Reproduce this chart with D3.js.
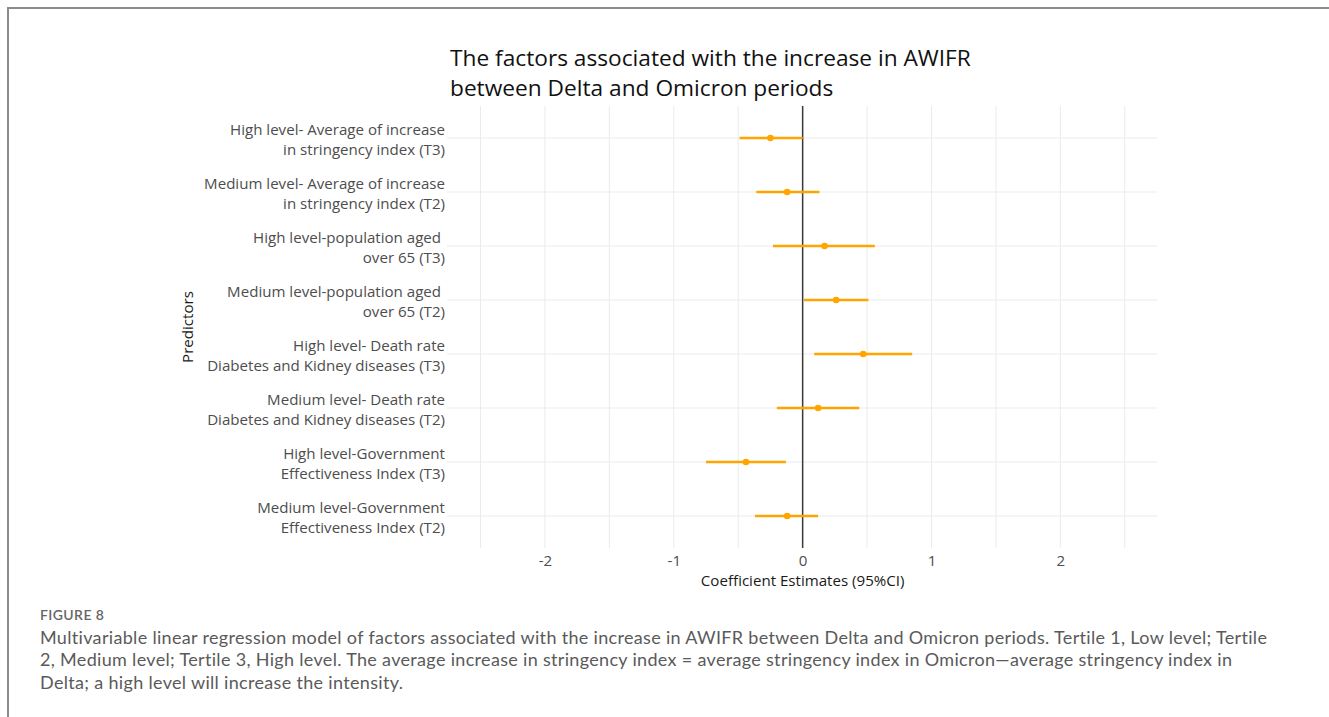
<!DOCTYPE html>
<html>
<head>
<meta charset="utf-8">
<script src="https://cdn.jsdelivr.net/npm/d3@7"></script>
<style>
  html, body { margin: 0; padding: 0; background: #fff; }
  svg { display: block; }
</style>
</head>
<body>
<div id="chart"></div>
<script>
// DATA
const predictors = [
  ["High level- Average of increase", "in stringency index (T3)"],
  ["Medium level- Average of increase", "in stringency index (T2)"],
  ["High level-population aged ", "over 65 (T3)"],
  ["Medium level-population aged ", "over 65 (T2)"],
  ["High level- Death rate", "Diabetes and Kidney diseases (T3)"],
  ["Medium level- Death rate", "Diabetes and Kidney diseases (T2)"],
  ["High level-Government", "Effectiveness Index (T3)"],
  ["Medium level-Government", "Effectiveness Index (T2)"],
];
const estimates = [-0.25, -0.12, 0.17, 0.26, 0.47, 0.12, -0.44, -0.12];
const lower = [-0.49, -0.36, -0.23, 0.01, 0.09, -0.2, -0.75, -0.37];
const upper = [0.0, 0.13, 0.56, 0.51, 0.85, 0.44, -0.13, 0.12];
const xTicks = [-2, -1, 0, 1, 2];
const xGrid = [-2.5, -2, -1.5, -1, -0.5, 0, 0.5, 1, 1.5, 2, 2.5];

const titleLines = [
  "The factors associated with the increase in AWIFR",
  "between Delta and Omicron periods",
];
const captionLabel = "FIGURE 8";
const captionLines = [
  "Multivariable linear regression model of factors associated with the increase in AWIFR between Delta and Omicron periods. Tertile 1, Low level; Tertile",
  "2, Medium level; Tertile 3, High level. The average increase in stringency index = average stringency index in Omicron\u2014average stringency index in",
  "Delta; a high level will increase the intensity.",
];

// CANVAS SETUP
const width = 1329,
  height = 717;
const panel = { left: 447, right: 1157, top: 106, bottom: 548 };
const labelFont = "'Open Sans', 'Noto Sans', sans-serif";
const captionFont = "Lato, 'Open Sans', sans-serif";
const labelSize = 15.1;

const svg = d3
  .select("#chart")
  .append("svg")
  .attr("width", width)
  .attr("height", height);

// frame of the figure box
svg
  .append("path")
  .attr("d", `M8,${height} L8,8 L${width},8`)
  .attr("fill", "none")
  .attr("stroke", "#8c8c8c")
  .attr("stroke-width", 2);

const xScale = d3
  .scaleLinear()
  .domain([-2.76, 2.75])
  .range([panel.left, panel.right]);

const yScale = d3
  .scalePoint()
  .domain(d3.range(predictors.length))
  .range([138, 516]);

// grid
const grid = svg.append("g").attr("class", "grid");
grid
  .selectAll("line.v")
  .data(xGrid)
  .join("line")
  .attr("class", "v")
  .attr("x1", (d) => xScale(d))
  .attr("x2", (d) => xScale(d))
  .attr("y1", panel.top)
  .attr("y2", panel.bottom)
  .attr("stroke", "#ebebeb")
  .attr("stroke-width", 1);
grid
  .selectAll("line.h")
  .data(predictors)
  .join("line")
  .attr("class", "h")
  .attr("x1", panel.left)
  .attr("x2", panel.right)
  .attr("y1", (d, i) => yScale(i))
  .attr("y2", (d, i) => yScale(i))
  .attr("stroke", "#ebebeb")
  .attr("stroke-width", 1.2);

// zero reference line
svg
  .append("line")
  .attr("x1", xScale(0))
  .attr("x2", xScale(0))
  .attr("y1", panel.top)
  .attr("y2", panel.bottom)
  .attr("stroke", "#3a3a3a")
  .attr("stroke-width", 1.5);

// error bars + points
const marks = svg.append("g").attr("class", "marks");
marks
  .selectAll("line")
  .data(estimates)
  .join("line")
  .attr("x1", (d, i) => xScale(lower[i]))
  .attr("x2", (d, i) => xScale(upper[i]))
  .attr("y1", (d, i) => yScale(i))
  .attr("y2", (d, i) => yScale(i))
  .attr("stroke", "#ffa500")
  .attr("stroke-width", 2.6);
marks
  .selectAll("circle")
  .data(estimates)
  .join("circle")
  .attr("cx", (d) => xScale(d))
  .attr("cy", (d, i) => yScale(i))
  .attr("r", 3.3)
  .attr("fill", "#ffa500");

// x axis
const xAxis = svg
  .append("g")
  .attr("transform", `translate(0,${panel.bottom + 4})`)
  .call(d3.axisBottom(xScale).tickValues(xTicks).tickSize(0).tickFormat(d3.format("d")));
xAxis.select(".domain").remove();
xAxis
  .selectAll("text")
  .attr("font-family", labelFont)
  .attr("font-size", labelSize)
  .attr("fill", "#4d4d4d")
  .text((d) => (d < 0 ? "-" + Math.abs(d) : d));

svg
  .append("text")
  .attr("x", xScale(0))
  .attr("y", 586)
  .attr("text-anchor", "middle")
  .attr("font-family", labelFont)
  .attr("font-size", labelSize)
  .attr("fill", "#1a1a1a")
  .text("Coefficient Estimates (95%CI)");

// y labels
const yLab = svg
  .append("g")
  .selectAll("text")
  .data(predictors)
  .join("text")
  .attr("text-anchor", "end")
  .attr("font-family", labelFont)
  .attr("font-size", labelSize)
  .attr("fill", "#4d4d4d");
yLab
  .selectAll("tspan")
  .data((d, i) => d.map((t, j) => ({ t, j, i })))
  .join("tspan")
  .attr("x", panel.left - 2)
  .attr("y", (d) => yScale(d.i) - 3 + d.j * 20)
  .attr("xml:space", "preserve")
  .text((d) => d.t);

svg
  .append("text")
  .attr("transform", "translate(193,327) rotate(-90)")
  .attr("text-anchor", "middle")
  .attr("font-family", labelFont)
  .attr("font-size", labelSize)
  .attr("fill", "#1a1a1a")
  .text("Predictors");

// title
svg
  .append("g")
  .selectAll("text")
  .data(titleLines)
  .join("text")
  .attr("x", 450)
  .attr("y", (d, i) => 66 + i * 30)
  .attr("font-family", labelFont)
  .attr("font-size", 22.7)
  .attr("fill", "#111")
  .text((d) => d);

// caption
svg
  .append("text")
  .attr("x", 40)
  .attr("y", 620)
  .attr("font-family", captionFont)
  .attr("font-size", 14)
  .attr("font-weight", 600)
  .attr("letter-spacing", 0.4)
  .attr("fill", "#666")
  .text(captionLabel);
svg
  .append("g")
  .selectAll("text")
  .data(captionLines)
  .join("text")
  .attr("x", 40)
  .attr("y", (d, i) => 643.5 + i * 22.8)
  .attr("font-family", captionFont)
  .attr("font-size", 18)
  .attr("letter-spacing", 0.32)
  .attr("fill", "#5a5a5a")
  .text((d) => d);
</script>
</body>
</html>
